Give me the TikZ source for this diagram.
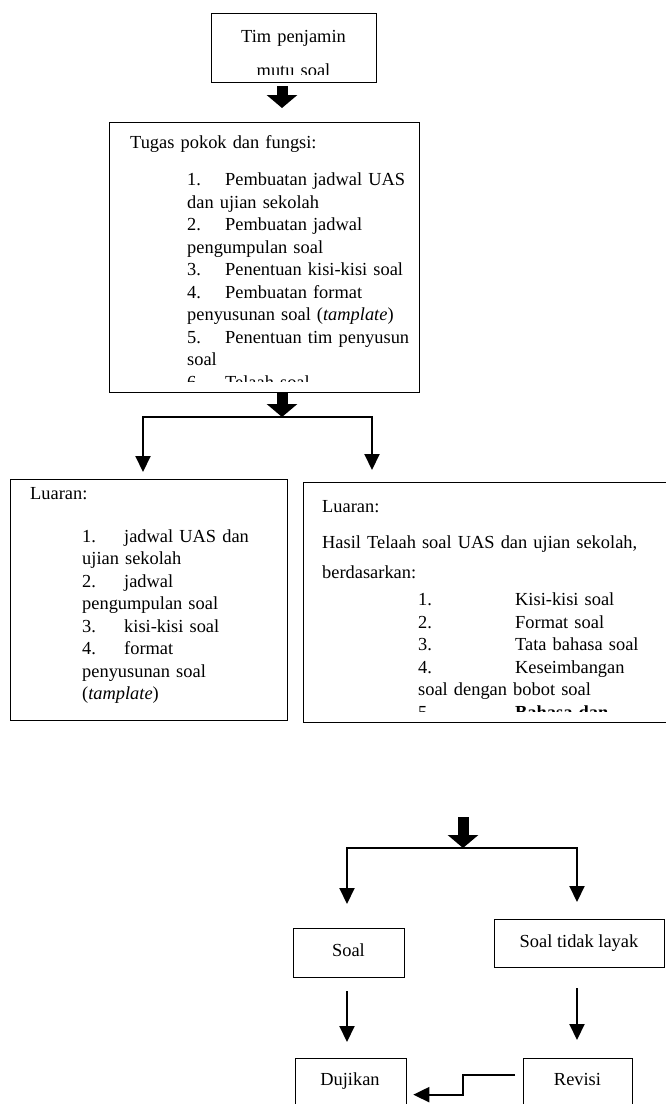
\documentclass[tikz,border=0pt]{standalone}
\usepackage{fontspec}
\setmainfont{Liberation Serif}
\usetikzlibrary{arrows.meta}
\newcommand\fsz{\fontsize{18.4pt}{22.5pt}\selectfont}
\newcommand\numbx[2]{\makebox[#1][l]{#2}}
\begin{document}
\begin{tikzpicture}[x=1pt,y=-1pt,
  box/.style={draw, line width=1.3pt, inner sep=0pt, anchor=north west, font=\fsz},
  txt/.style={inner sep=0pt, anchor=base west, align=left, text width=420pt, font=\fsz},
  arr/.style={line width=2pt, -{Triangle[width=15pt,length=16pt]}},
  fat/.style={line width=11pt, -{Triangle[width=30pt,length=13pt]}},
  branch/.style={line width=1.6pt}]
\useasboundingbox (0,0) rectangle (666,1104);

% ---------- boxes ----------
\node[box, minimum width=165, minimum height=69] (tim) at (211,13) {};
\node[box, minimum width=310, minimum height=270] (tugas) at (109,122) {};
\node[box, minimum width=277, minimum height=241] (luarL) at (10,479) {};
\node[box, minimum width=380, minimum height=240] (luarR) at (303,482) {};

% ---------- texts (clipped as in the reference) ----------
\begin{scope}
  \clip (tim.north west) rectangle ([yshift=9pt]tim.south east);
  \node[txt, anchor=base, align=center, text width=165pt,
        font=\fontsize{18.4pt}{34pt}\selectfont] (timT) at (293.5,42) {Tim penjamin\\mutu soal};
\end{scope}

\begin{scope}
  \clip (tugas.north west) rectangle ([yshift=12pt]tugas.south east);
  \node[txt] (tugasH) at (130,148) {Tugas pokok dan fungsi:};
  \node[txt] (tugasL) at (187,185.5) {\numbx{38pt}{1.}Pembuatan jadwal UAS\\
    dan ujian sekolah\\
    \numbx{38pt}{2.}Pembuatan jadwal\\
    pengumpulan soal\\
    \numbx{38pt}{3.}Penentuan kisi-kisi soal\\
    \numbx{38pt}{4.}Pembuatan format\\
    penyusunan soal (\textit{tamplate})\\
    \numbx{38pt}{5.}Penentuan tim penyusun\\
    soal\\
    \numbx{38pt}{6.}Telaah soal};
\end{scope}

\node[txt] (luarLH) at (30,499) {Luaran:};
\node[txt] (luarLL) at (82,542) {\numbx{42pt}{1.}jadwal UAS dan\\
  ujian sekolah\\
  \numbx{42pt}{2.}jadwal\\
  pengumpulan soal\\
  \numbx{42pt}{3.}kisi-kisi soal\\
  \numbx{42pt}{4.}format\\
  penyusunan soal\\
  (\textit{tamplate})};

\begin{scope}
  \clip (luarR.north west) rectangle ([yshift=12pt]luarR.south east);
  \node[txt] (luarRH) at (322,512) {Luaran:};
  \node[txt] (luarRA) at (322,548) {Hasil Telaah soal UAS dan ujian sekolah,};
  \node[txt] (luarRB) at (322,578) {berdasarkan:};
  \node[txt] (luarRL) at (418,605.5) {\numbx{97pt}{1.}Kisi-kisi soal\\
    \numbx{97pt}{2.}Format soal\\
    \numbx{97pt}{3.}Tata bahasa soal\\
    \numbx{97pt}{4.}Keseimbangan\\
    soal dengan bobot soal\\
    \numbx{97pt}{5.}\textbf{Bahasa dan}};
\end{scope}

% ---------- upper connectors ----------
\coordinate (fx) at (282,0);
\coordinate (bL) at (143,417);
\coordinate (bR) at (372,417);
\draw[fat] ([yshift=-3pt]tim.south -| fx) -- ([yshift=14pt]tugas.north -| fx);
\draw[fat] (tugas.south -| fx) -- (bL -| fx);
\draw[branch] (bL) -- (bR);
\draw[arr] ([yshift=1pt]bL) -- ([yshift=7pt]bL |- luarL.north);
\draw[arr] ([yshift=1pt]bR) -- ([yshift=12pt]bR |- luarR.north);

% ---------- lower part ----------
\node[box, minimum width=111, minimum height=49] (soal) at (293,928) {};
\node[font=\fsz, inner sep=0pt, anchor=base] (soalT) at (348.5,956) {Soal};
\node[box, minimum width=170, minimum height=48] (tidak) at (494,919) {};
\node[font=\fsz, inner sep=0pt, anchor=base] (tidakT) at (579,947) {Soal tidak layak};
\node[box, minimum width=111, minimum height=50] (duji) at (295,1058) {};
\node[font=\fsz, inner sep=0pt, anchor=base] (dujiT) at (350,1085) {Dujikan};
\node[box, minimum width=109, minimum height=50] (revisi) at (523,1058) {};
\node[font=\fsz, inner sep=0pt, anchor=base] (revisiT) at (577.5,1085) {Revisi};

\coordinate (f3s) at (463,817);
\coordinate (cL) at (347,848);
\coordinate (cR) at (577,848);
\draw[fat] (f3s) -- (f3s |- cL);
\draw[branch] (cL) -- (cR);
\draw[arr] ([yshift=1pt]cL) -- ([yshift=24pt]cL |- soal.north);
\draw[arr] ([yshift=1pt]cR) -- ([yshift=17pt]cR |- tidak.north);
\draw[arr] ([yshift=-13pt]cL |- soal.south) -- ([yshift=16pt]cL |- duji.north);
\draw[arr] ([yshift=-20pt]cR |- tidak.south) -- ([yshift=18pt]cR |- revisi.north);
\coordinate (mid) at (463,1083);
\draw[arr] ([shift={(-8pt,9pt)}]revisi.west) -| (mid) |- ([shift={(6pt,-11pt)}]duji.east);
\end{tikzpicture}
\end{document}
